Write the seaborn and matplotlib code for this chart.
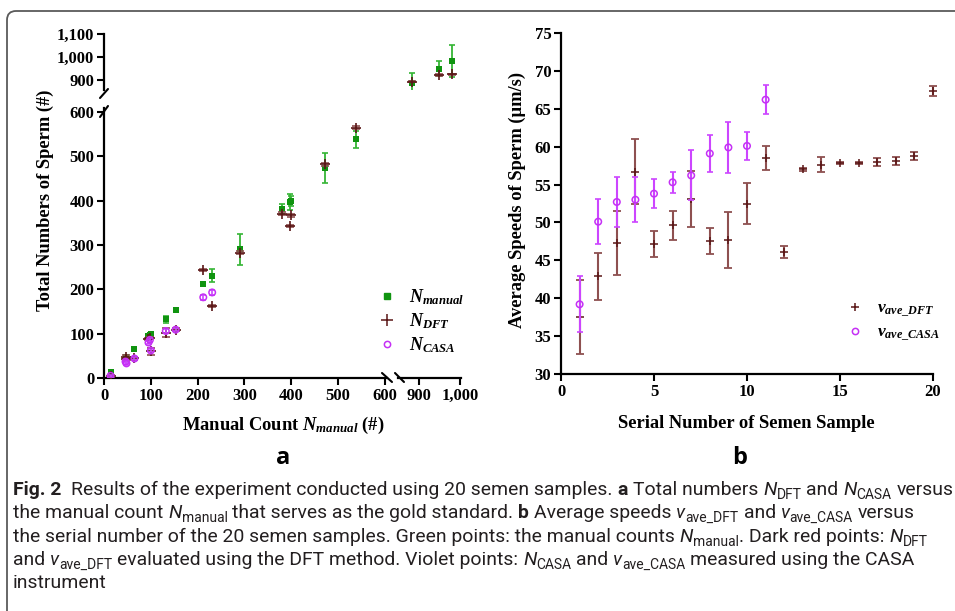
import numpy as np
import pandas as pd
import seaborn as sns
import matplotlib
matplotlib.use("Agg")
import matplotlib.pyplot as plt
from matplotlib.lines import Line2D
from matplotlib.patches import FancyBboxPatch
from matplotlib.ticker import FuncFormatter, FixedLocator
from matplotlib import font_manager as fm

# ---------------- data ----------------
# panel a: manual count vs totals
manual = [14, 46, 48, 65, 95, 98, 100, 132, 153, 212, 231, 290, 381, 397, 399, 473, 538, 884, 949, 982]
manual_err = [2, 2, 2, 2, 2, 3, 3, 7, 4, 2, 15, 35, 12, 17, 12, 34, 20, 45, 33, 70]
n_dft = [5, 48, 42, 44, 88, 90, 60, 102, 109, 243, 163, 283, 371, 342, 367, 482, 565, 891, 921, 923]
n_dft_err = [2, 3, 3, 3, 3, 3, 8, 10, 3, 2, 2, 3, 3, 2, 3, 3, 3, 3, 3, 3]
casa_manual = [14, 46, 48, 65, 95, 98, 100, 132, 153, 212, 231]
n_casa = [5, 37, 33, 44, 80, 86, 62, 106, 109, 182, 193]
n_casa_err = [2, 3, 3, 3, 4, 4, 3, 4, 3, 6, 5]

# panel b: average speeds vs serial number
serial = list(range(1, 21))
v_dft = [37.5, 42.9, 47.3, 56.7, 47.2, 49.6, 53.1, 47.6, 47.7, 52.5, 58.5, 46.1, 57.0, 57.6, 57.8, 57.8, 58.0, 58.1, 58.8, 67.4]
v_dft_err = [4.9, 3.1, 4.2, 4.3, 1.7, 1.9, 3.7, 1.7, 3.7, 2.7, 1.6, 0.8, 0.15, 1.0, 0.15, 0.15, 0.5, 0.55, 0.5, 0.65]
serial_casa = list(range(1, 12))
v_casa = [39.2, 50.1, 52.7, 53.0, 53.8, 55.3, 56.2, 59.1, 59.9, 60.1, 66.2]
v_casa_err = [3.7, 3.0, 3.3, 3.0, 1.9, 1.4, 3.3, 2.5, 3.4, 1.8, 1.9]

xticks_a_left = [0, 100, 200, 300, 400, 500, 600]
xticks_a_right = [900, 1000]
yticks_a_low = [0, 100, 200, 300, 400, 500, 600]
yticks_a_high = [900, 1000, 1100]
xticks_b = [0, 5, 10, 15, 20]
yticks_b = [30, 35, 40, 45, 50, 55, 60, 65, 70, 75]

# ---------------- style ----------------
sns.set_theme(style="ticks")
plt.rcParams.update({
    "font.family": ["Liberation Serif", "DejaVu Serif"],
    "font.weight": "bold",
    "axes.labelweight": "bold",
    "mathtext.fontset": "custom",
    "mathtext.rm": "Liberation Serif:bold",
    "mathtext.bf": "Liberation Serif:bold",
    "mathtext.it": "Liberation Serif:italic:bold",
    "axes.edgecolor": "black",
    "xtick.color": "black",
    "ytick.color": "black",
    "text.color": "black",
})

GREEN = "#109410"
GREEN_E = "#35b535"
DRED = "#5a1616"
DRED_E = "#8e5050"
VIOL = "#c530f5"
VIOL_E = "#cc45ff"

W, H = 955, 611
fig = plt.figure(figsize=(W / 100, H / 100), dpi=100)
fig.patch.set_facecolor("white")


def ax_px(x0, y0, x1, y1):
    return fig.add_axes([x0 / W, 1 - y1 / H, (x1 - x0) / W, (y1 - y0) / H])


fmt = FuncFormatter(lambda v, p: f"{v:,.0f}")
TICKFS = 12

ax_bl = ax_px(104, 108, 387.3, 378)
ax_tl = ax_px(104, 34, 387.3, 90)
ax_tr = ax_px(398, 34, 461, 90)
ax_br = ax_px(398, 108, 461, 378)
ax_b = ax_px(561, 33, 933, 374)

for ax in (ax_bl, ax_tl, ax_tr, ax_br, ax_b):
    ax.set_facecolor("none")
    for s in ax.spines.values():
        s.set_visible(False)
        s.set_linewidth(1.6)
    ax.tick_params(direction="out", length=5, width=1.5, labelsize=TICKFS, pad=2)
    ax.set_xlabel("")
    ax.set_ylabel("")

ax_bl.set_xlim(0, 605); ax_bl.set_ylim(0, 609)
ax_tl.set_xlim(0, 605); ax_tl.set_ylim(855, 1100)
ax_tr.set_xlim(850, 1003); ax_tr.set_ylim(855, 1100)
ax_br.set_xlim(850, 1003); ax_br.set_ylim(0, 609)

ax_bl.spines["left"].set_visible(True); ax_bl.spines["bottom"].set_visible(True)
ax_bl.xaxis.set_major_locator(FixedLocator(xticks_a_left))
ax_bl.yaxis.set_major_locator(FixedLocator(yticks_a_low))
ax_tl.spines["left"].set_visible(True)
ax_tl.yaxis.set_major_locator(FixedLocator(yticks_a_high))
ax_tl.set_xticks([])
ax_tr.set_xticks([]); ax_tr.set_yticks([])
ax_br.spines["bottom"].set_visible(True)
ax_br.xaxis.set_major_locator(FixedLocator(xticks_a_right))
ax_br.set_yticks([])
for ax in (ax_bl, ax_tl, ax_br):
    ax.xaxis.set_major_formatter(fmt)
    ax.yaxis.set_major_formatter(fmt)

# panel a data
for ax in (ax_bl, ax_tr):
    ax.errorbar(manual, manual, yerr=manual_err, fmt="none", ecolor=GREEN_E,
                elinewidth=1.3, capsize=2.2, capthick=1.2, zorder=2)
    sns.scatterplot(x=manual, y=manual, ax=ax, marker="s", s=16, color=GREEN,
                    edgecolor=GREEN, linewidth=0, zorder=3, legend=False)
    ax.errorbar(manual, n_dft, yerr=n_dft_err, fmt="none", ecolor=DRED_E,
                elinewidth=1.3, capsize=3, capthick=1.2, zorder=4)
    sns.scatterplot(x=manual, y=n_dft, ax=ax, marker="+", s=60, color=DRED,
                    linewidth=1.2, zorder=5, legend=False)
    ax.errorbar(casa_manual, n_casa, yerr=n_casa_err, fmt="none", ecolor=VIOL_E,
                elinewidth=1.2, capsize=2, capthick=1.1, zorder=6)
    sns.scatterplot(x=casa_manual, y=n_casa, ax=ax, marker="o", s=22,
                    facecolor="none", edgecolor=VIOL, linewidth=1.1, zorder=7,
                    legend=False)
    ax.set_xlabel(""); ax.set_ylabel("")

# panel b
ax_b.spines["left"].set_visible(True); ax_b.spines["bottom"].set_visible(True)
ax_b.set_xlim(0, 20); ax_b.set_ylim(30, 75)
ax_b.xaxis.set_major_locator(FixedLocator(xticks_b))
ax_b.yaxis.set_major_locator(FixedLocator(yticks_b))
eb = ax_b.errorbar(serial, v_dft, yerr=v_dft_err, fmt="none", ecolor=DRED_E,
                   elinewidth=1.5, capsize=3, capthick=1.3, zorder=2)
for a in eb.lines[1] + eb.lines[2]:
    a.set_clip_on(False)
sns.scatterplot(x=serial, y=v_dft, ax=ax_b, marker="+", s=40, color=DRED,
                linewidth=1.1, zorder=3, legend=False, clip_on=False)
eb = ax_b.errorbar(serial_casa, v_casa, yerr=v_casa_err, fmt="none", ecolor=VIOL_E,
                   elinewidth=1.5, capsize=2.2, capthick=1.2, zorder=4)
sns.scatterplot(x=serial_casa, y=v_casa, ax=ax_b, marker="o", s=22,
                facecolor="none", edgecolor=VIOL, linewidth=1.1, zorder=5, legend=False)
ax_b.set_xlabel(""); ax_b.set_ylabel("")

# break marks
def fl(x1, y1, x2, y2, lw=1.5, color="black"):
    fig.add_artist(Line2D([x1 / W, x2 / W], [1 - y1 / H, 1 - y2 / H],
                          transform=fig.transFigure, color=color, lw=lw))

fl(100, 98, 108, 89)
fl(100, 117, 108, 106)
fl(382, 373, 392, 382)
fl(395, 373, 404, 382)

# axis labels
LABFS = 13.3
fig.text(45 / W, 1 - 200 / H, "Total Numbers of Sperm (#)", rotation=90,
         ha="center", va="center", fontsize=LABFS, fontweight="bold")
fig.text(283 / W, 1 - 425 / H, r"Manual Count $N_{manual}$ (#)",
         ha="center", va="center", fontsize=LABFS, fontweight="bold")
fig.text(517 / W, 1 - 200 / H, "Average Speeds of Sperm (\u00b5m/s)", rotation=90,
         ha="center", va="center", fontsize=LABFS, fontweight="bold")
fig.text(746 / W, 1 - 424 / H, "Serial Number of Semen Sample",
         ha="center", va="center", fontsize=LABFS, fontweight="bold")

# legends
ha_ = [Line2D([], [], ls="none", marker="s", ms=4, color=GREEN),
       Line2D([], [], ls="none", marker="+", ms=8, mew=1.1, color=DRED),
       Line2D([], [], ls="none", marker="o", ms=4.5, mfc="none", mec=VIOL, mew=1.1)]
ax_bl.legend(ha_, [r"$N_{manual}$", r"$N_{DFT}$", r"$N_{CASA}$"],
             loc="center left", bbox_to_anchor=(378 / W, 1 - 321 / H),
             bbox_transform=fig.transFigure, frameon=False, fontsize=13,
             handlelength=1.0, handletextpad=0.7, labelspacing=0.22,
             borderpad=0, borderaxespad=0)
hb_ = [Line2D([], [], ls="none", marker="+", ms=6, mew=1.1, color=DRED),
       Line2D([], [], ls="none", marker="o", ms=4.5, mfc="none", mec=VIOL, mew=1.1)]
ax_b.legend(hb_, [r"$v_{ave\_DFT}$", r"$v_{ave\_CASA}$"],
            loc="center left", bbox_to_anchor=(846 / W, 1 - 322 / H),
            bbox_transform=fig.transFigure, frameon=False, fontsize=12.5,
            handlelength=1.0, handletextpad=0.8, labelspacing=0.35,
            borderpad=0, borderaxespad=0)

# panel letters
names = {f.name for f in fm.fontManager.ttflist}
cap_family = "Liberation Sans Narrow" if "Liberation Sans Narrow" in names else "Roboto"
fig.text(283 / W, 1 - 458 / H, "a", ha="center", va="center", fontsize=17,
         fontweight="bold", family=["Open Sans", "DejaVu Sans"])
fig.text(740 / W, 1 - 458 / H, "b", ha="center", va="center", fontsize=17,
         fontweight="bold", family=["Open Sans", "DejaVu Sans"])

# caption
renderer = fig.canvas.get_renderer()
CAPC = "#231f20"

L1 = [("Fig. 2", "b"), ("  Results of the experiment conducted using 20 semen samples. ", "n"),
      ("a", "b"), (" Total numbers ", "n"), ("N", "i"), ("DFT", "s"), (" and ", "n"),
      ("N", "i"), ("CASA", "s"), (" versus", "n")]
L2 = [("the manual count ", "n"), ("N", "i"), ("manual", "s"),
      (" that serves as the gold standard. ", "n"), ("b", "b"), (" Average speeds ", "n"),
      ("v", "i"), ("ave_DFT", "s"), (" and ", "n"), ("v", "i"), ("ave_CASA", "s"),
      (" versus", "n")]
L3 = [("the serial number of the 20 semen samples. Green points: the manual counts ", "n"),
      ("N", "i"), ("manual", "s"), (". Dark red points: ", "n"), ("N", "i"), ("DFT", "s")]
L4 = [("and ", "n"), ("v", "i"), ("ave_DFT", "s"),
      (" evaluated using the DFT method. Violet points: ", "n"), ("N", "i"), ("CASA", "s"),
      (" and ", "n"), ("v", "i"), ("ave_CASA", "s"), (" measured using the CASA", "n")]
L5 = [("instrument", "n")]


def draw_runs(x0, yb, runs, size, fam, keep=True):
    made = []
    t1 = fig.text(0, 0, "a a", fontsize=size, family=fam)
    t2 = fig.text(0, 0, "aa", fontsize=size, family=fam)
    sw = t1.get_window_extent(renderer).width - t2.get_window_extent(renderer).width
    t1.remove(); t2.remove()
    cur = x0
    for txt, st in runs:
        lead = len(txt) - len(txt.lstrip(" "))
        trail = len(txt) - len(txt.rstrip(" "))
        core = txt.strip(" ")
        cur += lead * sw
        kw = dict(family=fam, fontsize=size, va="baseline", ha="left",
                  fontweight="normal", color=CAPC)
        y = yb
        if st == "b":
            kw["fontweight"] = "bold"
        if st == "i":
            kw["fontstyle"] = "italic"
        if st == "s":
            kw["fontsize"] = size * 0.72
            y = yb + size * 0.22 * 100 / 72
        t = fig.text(cur / W, 1 - y / H, core, **kw)
        made.append(t)
        cur += t.get_window_extent(renderer).width
        cur += trail * sw
    if not keep:
        for t in made:
            t.remove()
    return cur - x0


w0 = draw_runs(13, 495, L1, 12, cap_family, keep=False)
csize = 12 * (937 / w0)
ys = [495, 518, 542, 565, 588]
for runs, y in zip([L1, L2, L3, L4, L5], ys):
    draw_runs(13, y, runs, csize, cap_family)

# rounded frame (open to the right and bottom, as in the source crop)
fig.add_artist(FancyBboxPatch((7 / W, -0.05), 1.2, (H - 11) / H + 0.05,
                              boxstyle=f"round,pad=0,rounding_size={9 / W}",
                              mutation_aspect=W / H,
                              transform=fig.transFigure, fill=False,
                              ec="#5a5a5a", lw=1.3, clip_on=False))

fig.savefig("out.png", dpi=100)
